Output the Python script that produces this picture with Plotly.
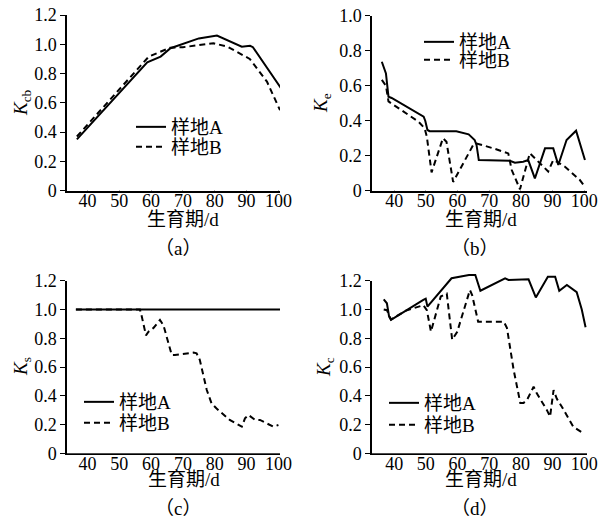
import plotly.graph_objects as go

# ---------------- data ----------------
# (a) Kcb
a_A_x = [36.7, 58.8, 63.0, 66.1, 75.0, 80.7, 88.5, 91.1, 92.0, 100.8]
a_A_y = [0.35, 0.877, 0.916, 0.973, 1.04, 1.06, 0.984, 0.99, 0.98, 0.70]
a_B_x = [36.7, 59.3, 66.0, 70.0, 79.6, 84.0, 91.0, 96.4, 100.5]
a_B_y = [0.37, 0.916, 0.977, 0.98, 1.007, 0.984, 0.90, 0.745, 0.55]

# (b) Ke
b_A_x = [36.1, 37.4, 38.2, 39.2, 49.3, 49.8, 50.5, 51.2, 59.6, 63.5, 65.4, 66.0, 66.7,
         70.2, 76.5, 78.1, 80.7, 82.3, 84.4, 87.6, 90.2, 91.8, 94.4, 97.4, 98.6, 100.2]
b_A_y = [0.737, 0.67, 0.537, 0.53, 0.423, 0.40, 0.347, 0.34, 0.34, 0.322, 0.29, 0.26, 0.175,
         0.175, 0.171, 0.16, 0.166, 0.175, 0.07, 0.242, 0.242, 0.147, 0.29, 0.343, 0.27, 0.175]
b_B_x = [36.1, 37.4, 38.2, 47.7, 49.6, 50.3, 51.8, 55.4, 56.5, 58.6, 64.9, 66.0, 71.3,
         76.0, 77.1, 79.7, 82.8, 83.9, 86.0, 88.6, 90.2, 91.3, 93.9, 98.6, 100.2]
b_B_y = [0.633, 0.60, 0.51, 0.394, 0.357, 0.309, 0.105, 0.30, 0.28, 0.05, 0.26, 0.27, 0.242,
         0.213, 0.118, 0.008, 0.214, 0.194, 0.157, 0.11, 0.175, 0.166, 0.137, 0.061, 0.023]

# (c) Ks
c_A_x = [36.4, 101.0]
c_A_y = [1.0, 1.0]
c_B_x = [36.4, 56.5, 57.0, 58.4, 59.2, 60.7, 62.8, 63.9, 66.5, 67.5, 73.3, 74.3, 75.3,
         77.5, 79.0, 80.5, 84.7, 88.5, 89.5, 90.6, 92.7, 94.2, 98.4, 100.0]
c_B_y = [1.0, 1.0, 0.96, 0.82, 0.845, 0.87, 0.927, 0.89, 0.683, 0.683, 0.70, 0.695, 0.65,
         0.44, 0.347, 0.313, 0.232, 0.185, 0.243, 0.266, 0.232, 0.232, 0.185, 0.197]

# (d) Kc
d_A_x = [36.7, 37.7, 38.4, 39.0, 49.2, 49.96, 50.5, 58.1, 63.6, 65.6, 67.2, 75.0, 76.1,
         82.4, 84.7, 88.5, 90.8, 92.1, 94.5, 97.6, 99.2, 100.4]
d_A_y = [1.07, 1.043, 0.95, 0.927, 1.066, 1.075, 1.02, 1.217, 1.24, 1.24, 1.13, 1.216, 1.205,
         1.21, 1.084, 1.228, 1.228, 1.13, 1.17, 1.12, 1.0, 0.876]
d_B_x = [36.7, 37.7, 39.0, 43.5, 49.2, 50.3, 51.6, 54.7, 56.6, 58.3, 59.9, 63.9, 64.6,
         66.5, 74.6, 75.6, 77.7, 79.8, 80.8, 81.9, 84.0, 85.0, 88.2, 89.2, 90.3, 91.3,
         92.9, 96.5, 99.7]
d_B_y = [1.0, 0.995, 0.93, 0.99, 1.03, 0.996, 0.846, 1.09, 1.11, 0.79, 0.845, 1.135, 1.10,
         0.915, 0.915, 0.87, 0.58, 0.35, 0.35, 0.37, 0.463, 0.417, 0.30, 0.255, 0.44, 0.38,
         0.324, 0.185, 0.139]

x_ticks = [40, 50, 60, 70, 80, 90, 100]
y_ticks_12 = [0, 0.2, 0.4, 0.6, 0.8, 1.0, 1.2]
y_text_12 = ["0", "0.2", "0.4", "0.6", "0.8", "1.0", "1.2"]
y_ticks_10 = [0, 0.2, 0.4, 0.6, 0.8, 1.0]
y_text_10 = ["0", "0.2", "0.4", "0.6", "0.8", "1.0"]

name_A = "样地A"
name_B = "样地B"
y_titles = ["<i>K</i><sub>cb</sub>", "<i>K</i><sub>e</sub>", "<i>K</i><sub>s</sub>", "<i>K</i><sub>c</sub>"]
x_title = "生育期/d"
captions = ["（a）", "（b）", "（c）", "（d）"]

# ---------------- layout geometry (pixels in the screenshot) ----------------
W, H = 611, 524
OFF = 8  # page body margin offset of the plot div
FONT = "Liberation Serif, Times New Roman, Noto Sans CJK SC, serif"

def px_x(p):
    return (p - OFF) / W

def px_y(p):
    return 1 - (p - OFF) / H

panels = [
    dict(xpx=(67, 280), ypx=(15, 190.7), xr=[33.6, 100.5], yr=[0, 1.2], yt=(y_ticks_12, y_text_12)),
    dict(xpx=(372, 587), ypx=(15.7, 190.7), xr=[33.0, 100.85], yr=[0, 1.0], yt=(y_ticks_10, y_text_10)),
    dict(xpx=(67, 280), ypx=(280.7, 453.3), xr=[33.6, 100.5], yr=[0, 1.2], yt=(y_ticks_12, y_text_12)),
    dict(xpx=(372, 587), ypx=(280.7, 453.3), xr=[33.0, 100.85], yr=[0, 1.2], yt=(y_ticks_12, y_text_12)),
]

series = [
    (a_A_x, a_A_y, a_B_x, a_B_y),
    (b_A_x, b_A_y, b_B_x, b_B_y),
    (c_A_x, c_A_y, c_B_x, c_B_y),
    (d_A_x, d_A_y, d_B_x, d_B_y),
]

# legend line-start x, row centres y (A, B)
legend_pos = [(136, 127, 147), (424, 42, 60), (84, 402, 423), (389, 403, 425)]
xtitle_pos = [(183, 219), (481, 219), (184, 479), (481, 479)]
caption_pos = [(178, 248), (475, 248), (178, 508), (475, 508)]
ytitle_pos = [(22, 103), (322, 103), (22, 367), (325, 367)]

fig = go.Figure()
layout = dict(
    width=W, height=H,
    margin=dict(l=0, r=0, t=0, b=0, autoexpand=False),
    paper_bgcolor="white", plot_bgcolor="white",
    font=dict(family=FONT, size=18, color="black"),
    showlegend=True,
)
annotations = []
LEG_OFF = 5  # legend symbol starts ~5px right of legend x

for i, (p, s) in enumerate(zip(panels, series)):
    k = "" if i == 0 else str(i + 1)
    xa, ya = "x" + k, "y" + k
    # hidden drawing axes: same pixel scale, a little taller so lines above top tick are not clipped
    kd = str(i + 5)
    xd, yd = "x" + kd, "y" + kd
    legA = "legend" if i == 0 else "legend" + str(2 * i + 1)
    legB = "legend" + str(2 * i + 2)
    top_px, bot_px = p["ypx"]
    ppu = (bot_px - top_px) / (p["yr"][1] - p["yr"][0])
    head = max(0.0, min(0.1, (top_px - OFF - 0.5) / ppu))
    top_draw = top_px - head * ppu

    fig.add_trace(go.Scatter(x=[None], y=[None], mode="lines", xaxis=xa, yaxis=ya,
                             showlegend=False, hoverinfo="skip"))
    fig.add_trace(go.Scatter(x=s[0], y=s[1], mode="lines", name=name_A,
                             xaxis=xd, yaxis=yd, legend=legA,
                             line=dict(color="black", width=2, dash="solid")))
    fig.add_trace(go.Scatter(x=s[2], y=s[3], mode="lines", name=name_B,
                             xaxis=xd, yaxis=yd, legend=legB,
                             line=dict(color="black", width=2, dash="6px,4px")))
    xdom = [px_x(p["xpx"][0]), px_x(p["xpx"][1])]
    layout["xaxis" + k] = dict(
        domain=xdom, range=p["xr"],
        anchor=ya, tickvals=x_ticks, ticks="inside", ticklen=5, tickwidth=1,
        tickcolor="black", showline=True, linecolor="black", linewidth=1.5,
        showgrid=False, zeroline=False, automargin=False, ticklabelstandoff=-7,
        ticklabeloverflow="allow", tickfont=dict(size=18, family=FONT),
    )
    layout["yaxis" + k] = dict(
        domain=[px_y(bot_px), px_y(top_px)], range=p["yr"],
        anchor=xa, tickvals=p["yt"][0], ticktext=p["yt"][1], ticks="outside",
        ticklen=5, tickwidth=1, tickcolor="black", showline=True, linecolor="black",
        linewidth=1.5, showgrid=False, zeroline=False, automargin=False,
        ticklabeloverflow="allow", tickfont=dict(size=18, family=FONT),
    )
    layout["xaxis" + kd] = dict(domain=xdom, range=p["xr"], anchor=yd, visible=False,
                                showgrid=False, zeroline=False)
    layout["yaxis" + kd] = dict(domain=[px_y(bot_px), min(1.0, px_y(top_draw))],
                                range=[p["yr"][0], p["yr"][1] + head], anchor=xd,
                                visible=False, showgrid=False, zeroline=False)
    lx, lyA, lyB = legend_pos[i]
    for leg, ly in ((legA, lyA), (legB, lyB)):
        layout[leg] = dict(
            x=px_x(lx - LEG_OFF), y=px_y(ly), xanchor="left", yanchor="middle",
            bgcolor="rgba(0,0,0,0)", borderwidth=0, itemwidth=30,
            font=dict(size=19, family=FONT),
        )
    tx, ty = xtitle_pos[i]
    annotations.append(dict(text=x_title, x=px_x(tx), y=px_y(ty), xref="paper", yref="paper",
                            showarrow=False, xanchor="center", yanchor="middle",
                            font=dict(size=19, family=FONT)))
    cx, cy = caption_pos[i]
    annotations.append(dict(text=captions[i], x=px_x(cx), y=px_y(cy), xref="paper", yref="paper",
                            showarrow=False, xanchor="center", yanchor="middle",
                            font=dict(size=19, family=FONT)))
    yx, yy = ytitle_pos[i]
    annotations.append(dict(text=y_titles[i], x=px_x(yx), y=px_y(yy), xref="paper", yref="paper",
                            showarrow=False, xanchor="center", yanchor="middle", textangle=-90,
                            font=dict(size=19, family=FONT)))

layout["annotations"] = annotations
fig.update_layout(**layout)
fig.write_html("out.html")
